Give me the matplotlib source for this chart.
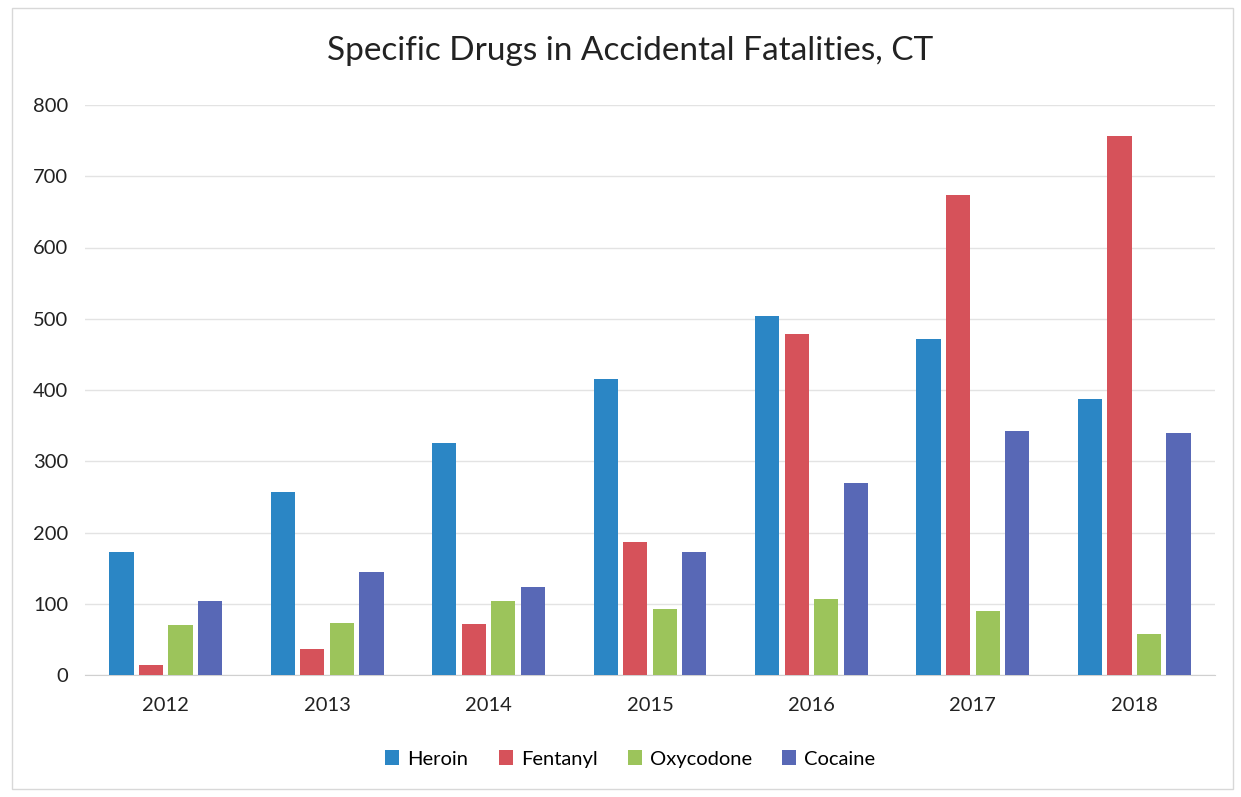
import matplotlib
matplotlib.use("Agg")
import matplotlib.pyplot as plt
import numpy as np
from matplotlib.patches import Rectangle

years = ["2012", "2013", "2014", "2015", "2016", "2017", "2018"]
heroin = [173, 257, 325, 415, 504, 472, 388]
fentanyl = [14, 37, 72, 186, 479, 674, 756]
oxycodone = [70, 73, 104, 92, 106, 90, 57]
cocaine = [104, 145, 124, 173, 269, 342, 340]

series = [("Heroin", heroin, "#2b86c5"),
          ("Fentanyl", fentanyl, "#d6525a"),
          ("Oxycodone", oxycodone, "#9cc45b"),
          ("Cocaine", cocaine, "#5868b6")]

plt.rcParams['font.family'] = ['Lato', 'DejaVu Sans']

W, H = 1241, 797
fig = plt.figure(figsize=(W / 100, H / 100), dpi=100)
ax = fig.add_axes([85 / W, (H - 675) / H, (1215 - 85) / W, (675 - 105) / H])

x = np.arange(len(years))
step = 0.183
width = 0.15
for i, (name, vals, col) in enumerate(series):
    ax.bar(x + (i - 1.5) * step, vals, width=width, color=col, label=name, zorder=3)

ax.set_xlim(-0.5, len(years) - 0.5)
ax.set_ylim(0, 800)
ax.set_yticks(range(0, 801, 100))
ax.set_xticks(x)
ax.set_xticklabels(years)
ax.tick_params(axis='both', length=0, labelsize=14.5, colors='#222222')
ax.tick_params(axis='x', pad=16)
ax.tick_params(axis='y', pad=12)
ax.grid(axis='y', color='#e3e3e3', linewidth=1, zorder=0)
for s in ['top', 'right', 'left']:
    ax.spines[s].set_visible(False)
ax.spines['bottom'].set_color('#d0d0d0')

fig.text(0.508, (H - 51) / H, "Specific Drugs in Accidental Fatalities, CT",
         ha='center', va='center', fontsize=24, color='#222222')

handles, labels = ax.get_legend_handles_labels()
fig.legend(handles, labels, loc='center', bbox_to_anchor=(0.508, (H - 759) / H),
           ncol=4, frameon=False, fontsize=14.5, handlelength=0.7, handleheight=0.7,
           columnspacing=1.5, handletextpad=0.4)

fig.patches.append(Rectangle((12 / W, 8 / H), (W - 20) / W, (H - 16) / H,
                             transform=fig.transFigure, fill=False,
                             edgecolor='#d8d8d8', linewidth=1))

fig.savefig("out.png", dpi=100, facecolor='white')
